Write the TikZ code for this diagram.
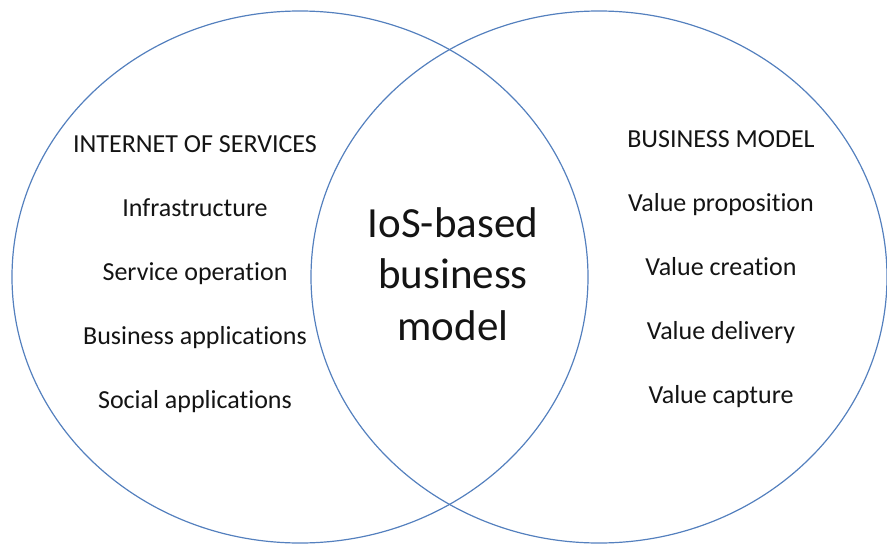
\documentclass[tikz,border=0pt]{standalone}
\usepackage{fontspec}
\setmainfont[Ligatures={CommonOff}]{Carlito}
\definecolor{vennblue}{RGB}{84,128,190}
\definecolor{inktext}{RGB}{20,20,20}
\begin{document}
\begin{tikzpicture}[x=1pt,y=-1pt,
  vennset/.style={draw=vennblue,line width=1.2pt},
  itemtext/.style={anchor=base,inner sep=0pt,text=inktext,font=\fontsize{26}{31}\selectfont},
  centertext/.style={anchor=base,inner sep=0pt,text=inktext,font=\fontsize{43}{52}\selectfont}]
\useasboundingbox (0,0) rectangle (887,544);
\draw[vennset] (300,277) ellipse [x radius=288, y radius=266];
\draw[vennset] (599,277) ellipse [x radius=288, y radius=266];
% left set
\node[itemtext] (ios) at (195,152) {INTERNET OF SERVICES};
\node[itemtext] (infra) at (195,216) {Infrastructure};
\node[itemtext] (servop) at (195,280) {Service operation};
\node[itemtext] (busapp) at (195,344) {Business applications};
\node[itemtext] (socapp) at (195,408) {Social applications};
% right set
\node[itemtext] (bm) at (721,147) {BUSINESS MODEL};
\node[itemtext] (vprop) at (721,211) {Value proposition};
\node[itemtext] (vcre) at (721,275) {Value creation};
\node[itemtext] (vdel) at (721,339) {Value delivery};
\node[itemtext] (vcap) at (721,403) {Value capture};
% intersection
\node[centertext] (c1) at (453,237) {IoS-based};
\node[centertext] (c2) at (453,288) {business};
\node[centertext] (c3) at (453,340) {model};
\end{tikzpicture}
\end{document}
